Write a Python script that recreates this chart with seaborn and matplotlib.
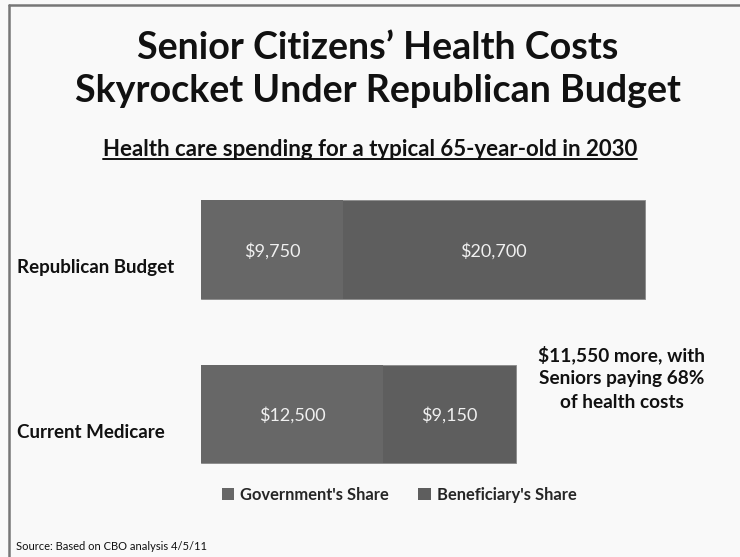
import matplotlib
matplotlib.use("Agg")
import matplotlib.pyplot as plt
import seaborn as sns
import pandas as pd
from matplotlib.lines import Line2D
from matplotlib.patches import Patch
import matplotlib.transforms as mtransforms

categories = ["Republican Budget", "Current Medicare"]
gov_share = [9750, 12500]
ben_share = [20700, 9150]
gov_labels = ["$9,750", "$12,500"]
ben_labels = ["$20,700", "$9,150"]
series_names = ["Government's Share", "Beneficiary's Share"]

title = "Senior Citizens\u2019 Health Costs\nSkyrocket Under Republican Budget"
subtitle = "Health care spending for a typical 65-year-old in 2030"
note = "$11,550 more, with\nSeniors paying 68%\nof health costs"
source = "Source: Based on CBO analysis 4/5/11"

sns.set_theme(style="white")
FONT = ["Lato", "DejaVu Sans"]
plt.rcParams["font.family"] = FONT

BG = "#f9f9f9"
GOV_C = "#676767"
BEN_C = "#5e5e5e"

df = pd.DataFrame({
    "category": categories,
    "gov": gov_share,
    "ben": ben_share,
})
df["total"] = df["gov"] + df["ben"]

W, H = 740, 557
fig = plt.figure(figsize=(W / 100, H / 100), dpi=100, facecolor=BG)
ax = fig.add_axes([201 / W, 1 - 490 / H, 1 - 201 / W, 320 / H])
ax.set_facecolor(BG)

sns.barplot(data=df, y="category", x="total", orient="h", color=BEN_C,
            width=0.6, saturation=1, ax=ax, edgecolor="#8a8a8a", linewidth=0.6)
sns.barplot(data=df, y="category", x="gov", orient="h", color=GOV_C,
            width=0.6, saturation=1, ax=ax, edgecolor="none", linewidth=0)

ax.set_xlim(0, 37000)
ax.set_ylim(1.462, -0.483)
for s in ax.spines.values():
    s.set_visible(False)
ax.set_xticks([])
ax.set_yticks([])
ax.set_xlabel("")
ax.set_ylabel("")

trans = mtransforms.blended_transform_factory(fig.transFigure, ax.transData)
for i, cat in enumerate(categories):
    ax.text(gov_share[i] / 2, i + 0.01, gov_labels[i], ha="center", va="center",
            color="#f0f0f0", fontsize=13)
    ax.text(gov_share[i] + ben_share[i] / 2, i + 0.01, ben_labels[i], ha="center",
            va="center", color="#f0f0f0", fontsize=13)
    ax.text(17 / W, i + 0.11, cat, transform=trans, ha="left", va="center",
            fontsize=13.5, fontweight="bold", color="#111111")

# title and subtitle
fig.text(378 / W, 1 - 69.5 / H, title, ha="center", va="center", fontsize=27.1,
         fontweight="bold", color="#111111", linespacing=1.33)
st = fig.text(0.5, 1 - 150 / H, subtitle, ha="center", va="center",
              fontsize=16, fontweight="bold", color="#111111")

# note
fig.text(622 / W, 1 - 378 / H, note, ha="center", va="center", fontsize=13.7,
         fontweight="bold", color="#111111", linespacing=1.45)

# source
fig.text(16 / W, 1 - 547 / H, source, ha="left", va="center", fontsize=8,
         color="#111111")

# legend
handles = [Patch(facecolor=GOV_C, edgecolor="none"),
           Patch(facecolor=BEN_C, edgecolor="none")]
leg = fig.legend(handles, series_names, loc="center",
                 bbox_to_anchor=(399 / W, 1 - 495 / H), ncol=2, frameon=False,
                 prop={"family": FONT, "weight": "bold", "size": 11.9},
                 handlelength=0.75, handleheight=0.75, handletextpad=0.35,
                 columnspacing=1.8)

# underline subtitle
fig.canvas.draw()
bb = st.get_window_extent().transformed(fig.transFigure.inverted())
fig.add_artist(Line2D([bb.x0, bb.x1], [bb.y0 + 0.002, bb.y0 + 0.002],
                      transform=fig.transFigure, color="#111111", lw=1.4))

# frame border (top and left)
fig.add_artist(Line2D([9 / W, 1.01], [1 - 5 / H, 1 - 5 / H], transform=fig.transFigure,
                      color="#777777", lw=1.8))
fig.add_artist(Line2D([9 / W, 9 / W], [-0.01, 1 - 5 / H], transform=fig.transFigure,
                      color="#777777", lw=1.8))

fig.savefig("out.png", dpi=100, facecolor=BG)
